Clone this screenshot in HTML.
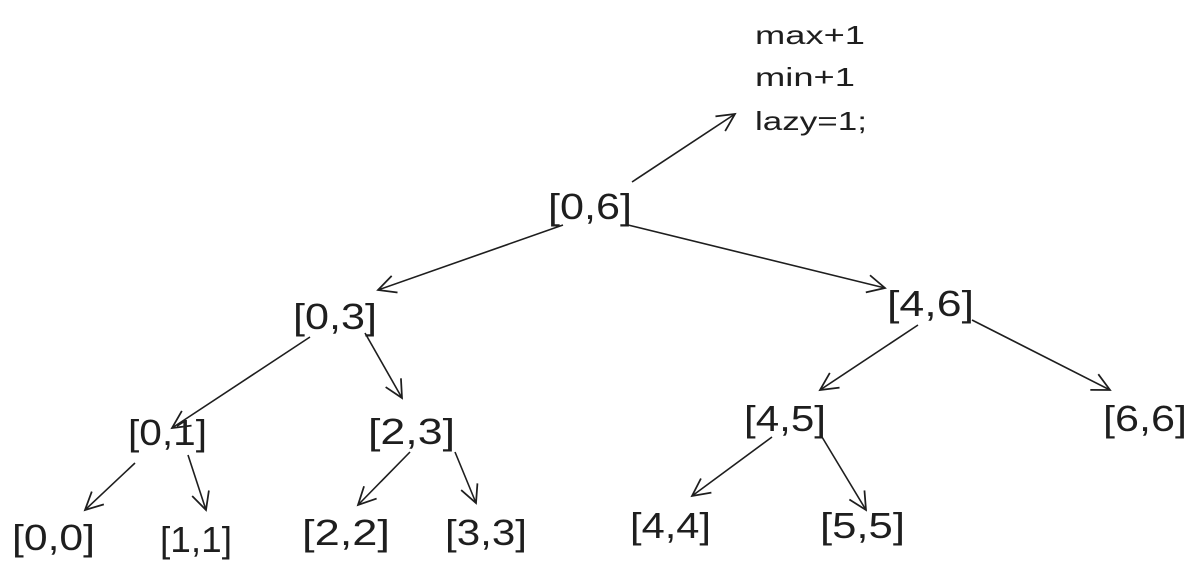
<!DOCTYPE html>
<html><head><meta charset="utf-8"><style>
html,body{margin:0;padding:0;background:#fff;}
svg{display:block;}
text{font-family:"Liberation Sans",sans-serif;fill:#1e1e1e;}
</style></head><body>
<svg width="1199" height="574" viewBox="0 0 1199 574" xmlns="http://www.w3.org/2000/svg">
<defs>
<marker id="a" viewBox="0 0 20 20" refX="18" refY="10" markerWidth="22" markerHeight="22" markerUnits="userSpaceOnUse" orient="auto">
<path d="M2,2 L18,10 L2,18" fill="none" stroke="#1e1e1e" stroke-width="1.6"/>
</marker>
</defs>
<g stroke="#1e1e1e" stroke-width="1.6" fill="none" marker-end="url(#a)">
<line x1="632" y1="182" x2="735" y2="114"/>
<line x1="563" y1="225" x2="378" y2="290"/>
<line x1="628" y1="225" x2="885" y2="288"/>
<line x1="310" y1="337" x2="172" y2="428"/>
<line x1="365" y1="333" x2="402" y2="398"/>
<line x1="918" y1="325" x2="820" y2="390"/>
<line x1="972" y1="320" x2="1110" y2="390"/>
<line x1="135" y1="463" x2="85" y2="510"/>
<line x1="188" y1="455" x2="206" y2="510"/>
<line x1="410" y1="452" x2="358" y2="505"/>
<line x1="455" y1="452" x2="476" y2="503"/>
<line x1="772" y1="437" x2="692" y2="496"/>
<line x1="822" y1="437" x2="866" y2="510"/>
</g>
<g font-size="26">
<text x="755" y="44" textLength="110" lengthAdjust="spacingAndGlyphs">max+1</text>
<text x="755" y="86" textLength="100" lengthAdjust="spacingAndGlyphs">min+1</text>
<text x="755" y="130" textLength="112" lengthAdjust="spacingAndGlyphs">lazy=1;</text>
</g>
<g font-size="36">
<text x="548" y="219" textLength="84" lengthAdjust="spacingAndGlyphs">[0,6]</text>
<text x="293" y="329" textLength="84" lengthAdjust="spacingAndGlyphs">[0,3]</text>
<text x="887" y="316" textLength="87" lengthAdjust="spacingAndGlyphs">[4,6]</text>
<text x="128" y="445" textLength="79" lengthAdjust="spacingAndGlyphs">[0,1]</text>
<text x="368" y="444" textLength="87" lengthAdjust="spacingAndGlyphs">[2,3]</text>
<text x="744" y="431" textLength="82" lengthAdjust="spacingAndGlyphs">[4,5]</text>
<text x="1103" y="431" textLength="84" lengthAdjust="spacingAndGlyphs">[6,6]</text>
<text x="12" y="550" textLength="83" lengthAdjust="spacingAndGlyphs">[0,0]</text>
<text x="160" y="552" textLength="72" lengthAdjust="spacingAndGlyphs">[1,1]</text>
<text x="302" y="545" textLength="88" lengthAdjust="spacingAndGlyphs">[2,2]</text>
<text x="445" y="545" textLength="82" lengthAdjust="spacingAndGlyphs">[3,3]</text>
<text x="630" y="538" textLength="81" lengthAdjust="spacingAndGlyphs">[4,4]</text>
<text x="820" y="538" textLength="85" lengthAdjust="spacingAndGlyphs">[5,5]</text>
</g>
</svg>
</body></html>
